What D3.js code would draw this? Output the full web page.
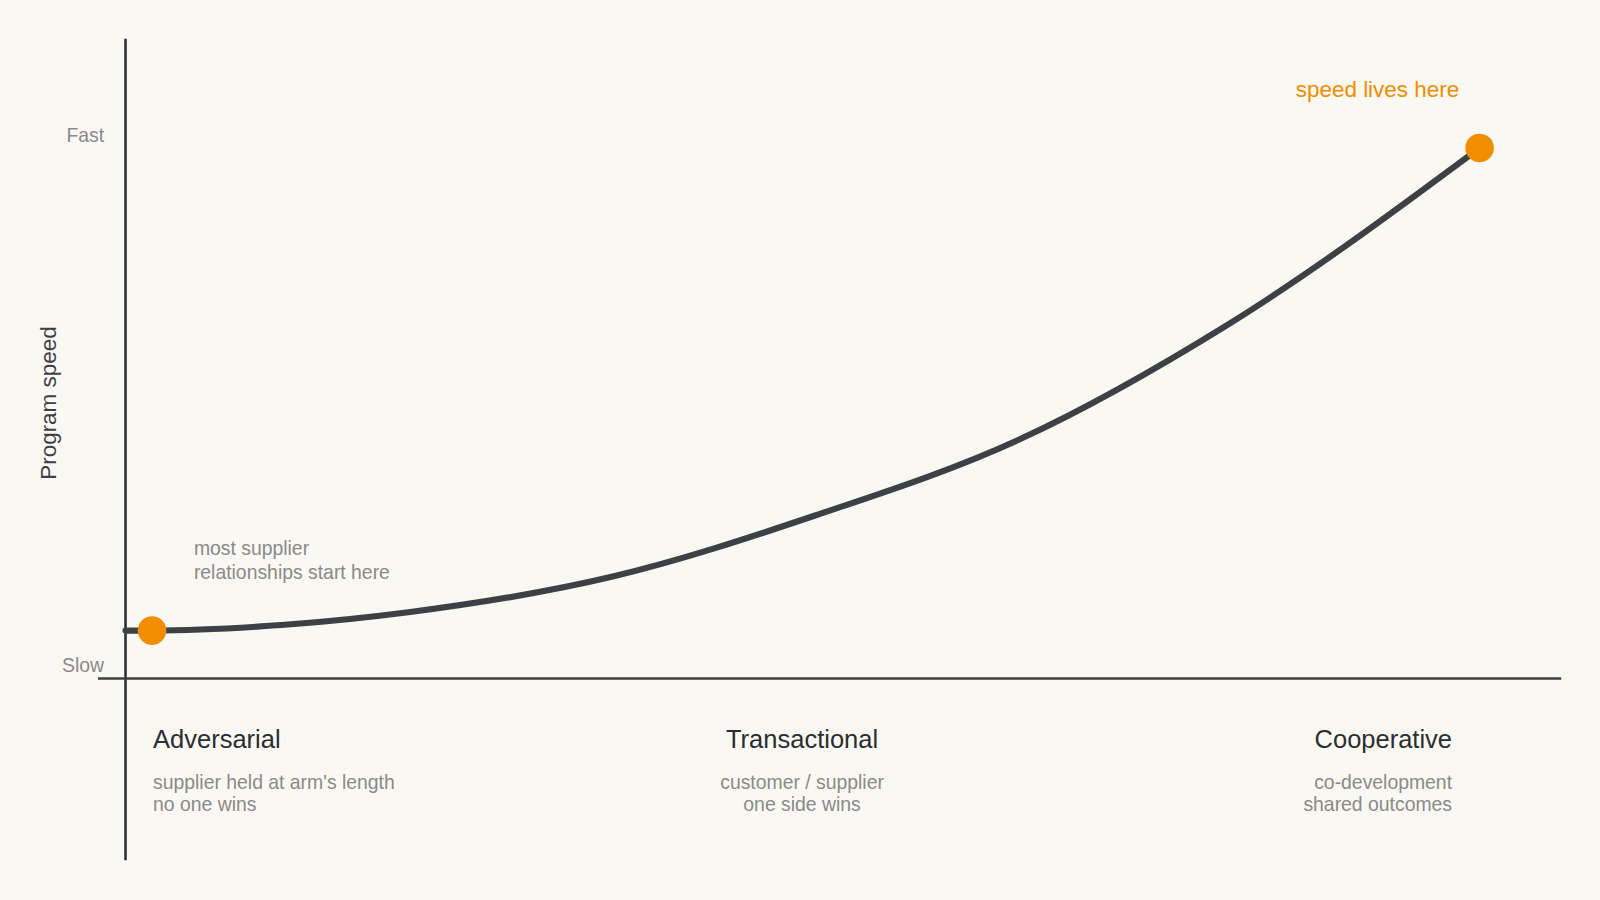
<!DOCTYPE html>
<html><head><meta charset="utf-8">
<script src="https://cdn.jsdelivr.net/npm/d3@7"></script>
<style>html,body{margin:0;background:#faf8f2;}svg{display:block;font-family:"Liberation Sans",Arial,sans-serif;}</style>
</head><body>
<script>
const curveX = [-0.02, 0, 0.1, 0.193, 0.347, 0.5, 0.654, 0.808, 1.0];
const curveY = [0, 0, 0.012, 0.038, 0.112, 0.239, 0.397, 0.63, 1.0];
const stages = ["Adversarial", "Transactional", "Cooperative"];
const stageSubs = [["supplier held at arm's length","no one wins"],["customer / supplier","one side wins"],["co-development","shared outcomes"]];
const yTicks = ["Slow", "Fast"];
const markers = [{x:0,y:0},{x:1,y:1}];

const svg = d3.select("body").append("svg").attr("width",1600).attr("height",900).attr("viewBox","0 0 1568 882");
svg.append("rect").attr("width",1568).attr("height",882).attr("fill","#faf8f2");
const x = d3.scaleLinear().domain([0,1]).range([149,1450]);
const y = d3.scaleLinear().domain([0,1]).range([618,145]);
const ink="#3d4146", grey="#8a8a8a", orange="#f28c00";

svg.append("line").attr("x1",123).attr("x2",123).attr("y1",38).attr("y2",843).attr("stroke","#2a2d31").attr("stroke-width",2.5);
svg.append("line").attr("x1",96).attr("x2",1530).attr("y1",665).attr("y2",665).attr("stroke",ink).attr("stroke-width",2.5);

svg.append("text").attr("x",102).attr("y",139).attr("text-anchor","end").attr("font-size",19).attr("fill",grey).text(yTicks[1]);
svg.append("text").attr("x",102).attr("y",659).attr("text-anchor","end").attr("font-size",19).attr("fill",grey).text(yTicks[0]);
svg.append("text").attr("transform","translate(55,395) rotate(-90)").attr("text-anchor","middle").attr("font-size",22).attr("fill",ink).text("Program speed");

const pts = curveX.map((v,i)=>[x(v),y(curveY[i])]);
pts[0][0]=123;
svg.append("path").attr("d",d3.line().curve(d3.curveMonotoneX)(pts)).attr("fill","none").attr("stroke",ink).attr("stroke-width",6).attr("stroke-linecap","round");
svg.selectAll("circle.m").data(markers).join("circle").attr("cx",d=>x(d.x)).attr("cy",d=>y(d.y)).attr("r",14).attr("fill",orange);

svg.append("text").attr("x",1430).attr("y",95).attr("text-anchor","end").attr("font-size",22).attr("fill",orange).text("speed lives here");
const ann = svg.append("text").attr("font-size",19).attr("fill",grey);
ann.append("tspan").attr("x",190).attr("y",544).text("most supplier");
ann.append("tspan").attr("x",190).attr("y",567).text("relationships start here");

const pos=[{x:150,a:"start"},{x:786,a:"middle"},{x:1423,a:"end"}];
stages.forEach((s,i)=>{
  svg.append("text").attr("x",pos[i].x).attr("y",733).attr("text-anchor",pos[i].a).attr("font-size",25).attr("fill","#2a2d31").text(s);
  stageSubs[i].forEach((t,j)=>svg.append("text").attr("x",pos[i].x).attr("y",773+j*22).attr("text-anchor",pos[i].a).attr("font-size",19).attr("fill",grey).text(t));
});
</script></body></html>
